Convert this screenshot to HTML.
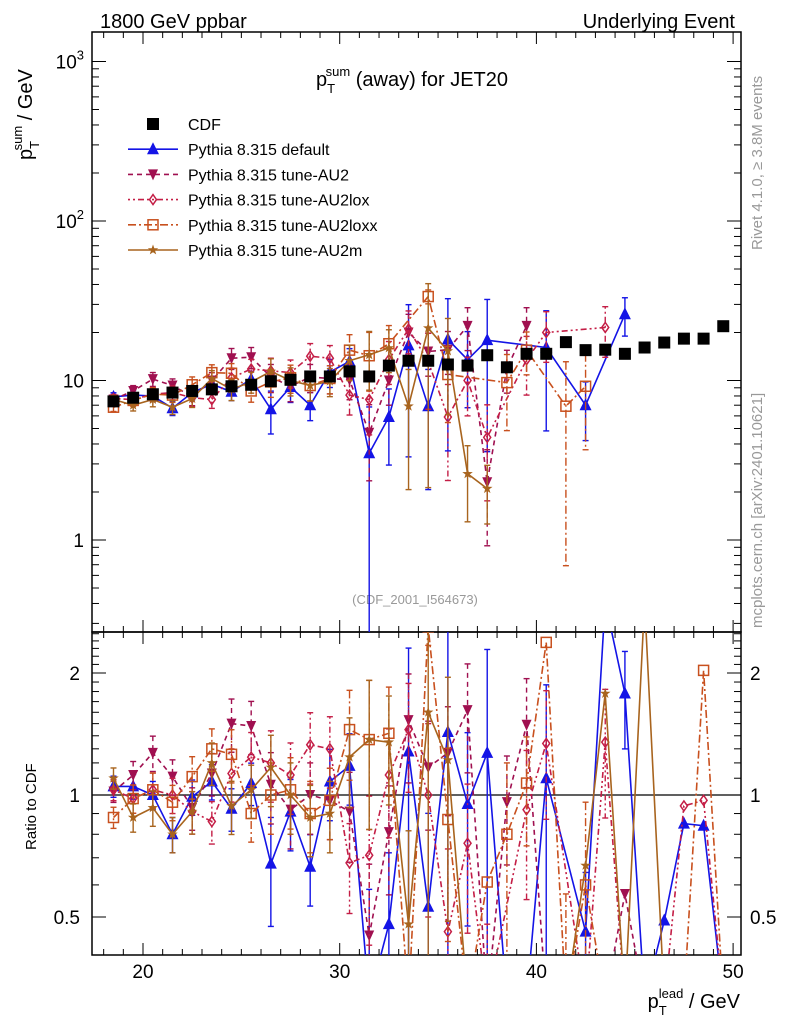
<!DOCTYPE html>
<html><head><meta charset="utf-8"><style>
html,body{margin:0;padding:0;background:#fff;overflow:hidden;width:786px;height:1024px}
svg{display:block;font-family:"Liberation Sans",sans-serif;overflow:hidden}
</style></head><body>
<svg id="c" width="786" height="1024" viewBox="0 0 786 1024" xmlns="http://www.w3.org/2000/svg">
<defs>
<clipPath id="cm"><rect x="92" y="32" width="649" height="600"/></clipPath>
<clipPath id="cr"><rect x="92" y="632" width="649" height="323"/></clipPath>
</defs>
<text x="100" y="28" font-size="20">1800 GeV ppbar</text>
<text x="735" y="28" font-size="20" text-anchor="end">Underlying Event</text>
<text x="412" y="86" font-size="20" text-anchor="middle">p<tspan font-size="13" dy="7">T</tspan><tspan font-size="13" dx="-8" dy="-17">sum</tspan><tspan dy="10"> (away) for JET20</tspan></text>
<text transform="translate(762,250) rotate(-90)" font-size="15" fill="#999">Rivet 4.1.0, ≥ 3.8M events</text>
<text transform="translate(762,628) rotate(-90)" font-size="15" fill="#999">mcplots.cern.ch [arXiv:2401.10621]</text>
<text x="415" y="604" font-size="13" fill="#999" text-anchor="middle">(CDF_2001_I564673)</text>
<text transform="translate(32,160) rotate(-90)" font-size="20">p<tspan font-size="13" dy="7">T</tspan><tspan font-size="13" dx="-8" dy="-17">sum</tspan><tspan dy="10"> / GeV</tspan></text>
<text transform="translate(36,850) rotate(-90)" font-size="15">Ratio to CDF</text>
<text x="740" y="1008" font-size="20" text-anchor="end">p<tspan font-size="13" dy="7">T</tspan><tspan font-size="13" dx="-8" dy="-17">lead</tspan><tspan dy="10"> / GeV</tspan></text>
<g id="axes"></g>
<g id="main" clip-path="url(#cm)"></g>
<g id="ratio" clip-path="url(#cr)"></g>
<g id="legend"></g>
</svg>
<script>
const xsVals=[18.5,19.5,20.5,21.5,22.5,23.5,24.5,25.5,26.5,27.5,28.5,29.5,30.5,31.5,32.5,33.5,34.5,35.5,36.5,37.5,38.5,39.5,40.5,41.5,42.5,43.5,44.5,45.5,46.5,47.5,48.5,49.5];
const cdfVals=[7.4,7.8,8.2,8.4,8.6,8.8,9.2,9.4,9.9,10.1,10.6,10.6,11.4,10.6,12.4,13.3,13.3,12.6,12.4,14.4,12.1,14.7,14.7,17.4,15.5,15.6,14.7,16.1,17.3,18.3,18.3,21.9];
const defMain=[7.9,8.1,8.0,6.7,8.4,9.5,8.5,10.2,6.6,9.1,7.0,11.3,13.2,3.5,5.9,16.6,6.9,18.1,13.5,17.9,null,null,16.1,null,7.0,null,26,null,null,null,null,null];
const defErr=[.06,.07,.08,.1,.1,.1,.12,.12,.3,.2,.2,.2,.2,.95,.5,.8,.7,.8,.5,.8,0,0,.7,0,.4,0,.27,0,0,0,0,0];
const defRatio=[1.05,1.05,1.0,0.80,0.99,1.08,0.925,1.07,0.677,0.91,0.665,1.08,1.18,0.3,0.48,1.28,0.53,1.43,0.95,1.27,0.3,0.3,1.1,null,0.46,3.0,1.78,0.3,0.49,0.85,0.84,0.3];
const au2Main=[7.6,8.6,10.2,9.3,7.9,10,13.8,14,10.5,9.2,10.5,10.3,10.1,4.7,10,20,15.2,15.6,22,2.3,11.9,22,null,null,null,null,null,null,null,null,null,null];
const au2Err=[.06,.08,.1,.1,.12,.12,.15,.15,.2,.2,.2,.2,.25,.5,.3,.3,.3,.3,.3,.6,.3,.3,0,0,0,0,0,0,0,0,0,0];
const au2Ratio=[1.02,1.12,1.27,1.11,0.93,1.13,1.5,1.48,1.06,0.92,1.0,0.97,0.91,0.45,0.81,1.53,1.17,1.27,1.62,0.2,0.96,1.49,0.3,null,null,0.3,0.57,0.3,null,null,null,null];
const loxMain=[7.7,7.6,8.2,8.4,7.8,7.6,10.4,11.8,11.5,11.2,14.2,13.8,8.1,7.6,13.5,21,13.2,5.9,10,4.4,null,13.5,20,null,null,21.5,null,null,null,null,null,null];
const loxErr=[.06,.08,.1,.1,.12,.12,.15,.15,.2,.2,.2,.2,.25,.4,.3,.3,.5,.6,.4,.6,0,.4,.35,0,0,.35,0,0,0,0,0,0];
const loxRatio=[1.03,0.98,1.03,1.0,0.91,0.86,1.13,1.24,1.2,1.12,1.33,1.3,0.68,0.71,1.12,1.45,1.0,0.46,0.76,0.3,null,0.92,1.34,null,0.3,1.35,0.3,null,0.3,0.94,0.97,0.3];
const loxxMain=[6.8,7.5,8.2,8.1,9.4,11.2,11.1,8.6,9.8,10.4,9.3,10.3,15.5,14.3,17,null,33.6,10.9,null,null,9.7,15.5,null,6.9,9.2,null,null,null,null,null,null,null];
const loxxErr=[.06,.08,.1,.1,.12,.12,.15,.15,.2,.2,.2,.2,.25,.4,.3,0,.1,.5,0,0,.5,.3,0,.9,.6,0,0,0,0,0,0,0];
const loxxRatio=[0.88,0.98,1.03,0.96,1.11,1.3,1.26,0.9,1.0,1.03,0.9,0.97,1.45,1.37,1.42,0.3,2.6,0.87,0.3,0.61,0.8,1.07,2.38,0.3,0.6,0.3,null,null,null,0.3,2.03,0.3];
const au2mMain=[7.6,7.0,7.6,6.8,7.7,10.3,8.8,9.8,11.4,10,9.3,9.9,13.3,14.5,16,6.9,21.3,15.3,2.6,2.1,null,null,null,null,null,null,null,null,null,null,null,null];
const au2mErr=[.06,.08,.1,.1,.12,.12,.15,.15,.2,.2,.2,.2,.25,.4,.3,.7,.9,.6,.5,.4,0,0,0,0,0,0,0,0,0,0,0,0];
const au2mRatio=[1.1,0.88,0.93,0.8,0.91,1.2,0.94,1.03,1.17,1.0,0.88,0.9,1.24,1.37,1.35,0.48,1.6,1.22,0.2,null,null,null,null,0.2,0.67,1.78,0.2,3.0,0.2,null,null,null];
const xTicks=[20,30,40,50];
const yTicks=[1,10,100,1000];
const rTicks=[0.5,1,2];

const NS="http://www.w3.org/2000/svg";
const L=92,R=741,T=32,M=632,B=955;
const X=v=>143+(v-20)*19.67;
const Y=v=>Math.min(Math.max(540-Math.log10(v)*159.5,10),1000);
const YR=v=>Math.min(Math.max(795-Math.log2(v)*122,600),1000);
function el(tag,attrs,parent){const e=document.createElementNS(NS,tag);for(const k in attrs)e.setAttribute(k,attrs[k]);parent.appendChild(e);return e;}
const axes=document.getElementById('axes'),gm=document.getElementById('main'),gr=document.getElementById('ratio'),gl=document.getElementById('legend');

let f1=el('rect',{x:L,y:T,width:R-L,height:M-T,fill:'none',stroke:'#000','stroke-width':1.5},axes);


let f2=el('rect',{x:L,y:M,width:R-L,height:B-M,fill:'none',stroke:'#000','stroke-width':1.5},axes);


let one=el('line',{x1:L,x2:R,y1:YR(1),y2:YR(1),stroke:'#000','stroke-width':1.2},axes);



for(let v=18;v<=50;v++){const x=X(v);const len=(v%10===0)?12:6;
 [[T,1],[M,-1],[M,1],[B,-1]].forEach(([y,d])=>{let t=el('line',{x1:x,x2:x,y1:y,y2:y+d*len,stroke:'#000'},axes);
 
 });}
xTicks.forEach(v=>{let t=el('text',{x:X(v),y:978,'font-size':19,'text-anchor':'middle'},axes);t.textContent=v;
 
 });
for(let d=-1;d<=3;d++)for(let k=1;k<10;k++){const v=k*Math.pow(10,d);const y=540-Math.log10(v)*159.5;if(y<T||y>M)continue;const len=k===1?14:7;
 [[L,1],[R,-1]].forEach(([x,s])=>{let t=el('line',{x1:x,x2:x+s*len,y1:y,y2:y,stroke:'#000'},axes);
 
 });}
yTicks.forEach(v=>{let t=el('text',{x:84,y:Y(v)+7,'font-size':19,'text-anchor':'end'},axes);
 if(v>=100){t.innerHTML='10<tspan font-size="13" dy="-9">'+Math.log10(v)+'</tspan>';}
 else{t.textContent=v;}
 
 });
for(let i=4;i<=25;i++){const v=i/10;const y=795-Math.log2(v)*122;if(y<M||y>B)continue;const maj=(i===5||i===10||i===20);const len=maj?14:7;
 [[L,1],[R,-1]].forEach(([x,s])=>{let t=el('line',{x1:x,x2:x+s*len,y1:y,y2:y,stroke:'#000'},axes);
 
 });}
rTicks.forEach(v=>{[[80,'end'],[750,'start']].forEach(([x,a])=>{let t=el('text',{x:x,y:YR(v)+7,'font-size':19,'text-anchor':a},axes);t.textContent=v;
 
 });});

function marker(g,type,x,y,color){
 let e;
 if(type==='fsquare')e=el('rect',{x:x-6,y:y-6,width:12,height:12,fill:'#000'},g);
 else if(type==='square')e=el('rect',{x:x-5,y:y-5,width:10,height:10,fill:'none',stroke:color,'stroke-width':1.5},g);
 else if(type==='tri')e=el('path',{d:`M${x} ${y-7}L${x+6} ${y+5}L${x-6} ${y+5}Z`,fill:color},g);
 else if(type==='tridown')e=el('path',{d:`M${x} ${y+6}L${x+5} ${y-5}L${x-5} ${y-5}Z`,fill:color},g);
 else if(type==='diamond')e=el('path',{d:`M${x} ${y-5}L${x+3.5} ${y}L${x} ${y+5}L${x-3.5} ${y}Z`,fill:'none',stroke:color,'stroke-width':1.5},g);
 else if(type==='star'){let p='';for(let i=0;i<10;i++){const r=i%2?2.2:5.5,a=-Math.PI/2+i*Math.PI/5;p+=(i?'L':'M')+(x+r*Math.cos(a)).toFixed(1)+' '+(y+r*Math.sin(a)).toFixed(1);}e=el('path',{d:p+'Z',fill:color},g);}
 return e;
}
const series=[
 {name:'default',main:defMain,err:defErr,ratio:defRatio,color:'#1414e6',dash:'',m:'tri',label:'Pythia 8.315 default'},
 {name:'au2',main:au2Main,err:au2Err,ratio:au2Ratio,color:'#a01050',dash:'5,4',m:'tridown',label:'Pythia 8.315 tune-AU2'},
 {name:'au2lox',main:loxMain,err:loxErr,ratio:loxRatio,color:'#c41e46',dash:'2,3,2,3,6,3',m:'diamond',label:'Pythia 8.315 tune-AU2lox'},
 {name:'au2loxx',main:loxxMain,err:loxxErr,ratio:loxxRatio,color:'#c8501e',dash:'8,3,2,3',m:'square',label:'Pythia 8.315 tune-AU2loxx'},
 {name:'au2m',main:au2mMain,err:au2mErr,ratio:au2mRatio,color:'#a8641e',dash:'',m:'star',label:'Pythia 8.315 tune-AU2m'}
];
function drawSeries(g,s,vals,Yf,errs,suffix){
 const grp=el('g',{},g);
 
 
 let pts=[];
 vals.forEach((v,i)=>{if(v==null)return;pts.push([X(xsVals[i]),Yf(v),v,i]);});
 const pl=el('polyline',{points:pts.map(p=>p[0].toFixed(1)+','+p[1].toFixed(1)).join(' '),fill:'none',stroke:s.color,'stroke-width':1.6,'stroke-dasharray':s.dash},grp);
 
 
 pts.forEach(([x,y,v,i])=>{const e=errs[i]||0;if(e>0){const lo=Math.max(v*(1-e),1e-3),hi=v*(1+e);
  const y1=Yf(hi),y2=Yf(lo);
  el('line',{x1:x,x2:x,y1:y1,y2:y2,stroke:s.color,'stroke-width':1.4,'stroke-dasharray':s.dash},grp);
  el('line',{x1:x-3,x2:x+3,y1:y1,y2:y1,stroke:s.color,'stroke-width':1.4},grp);
  el('line',{x1:x-3,x2:x+3,y1:y2,y2:y2,stroke:s.color,'stroke-width':1.4},grp);}
  if(y<990&&y>20){const mk=marker(grp,s.m,x,y,s.color);
  
  }});
}
series.forEach(s=>drawSeries(gm,s,s.main,Y,s.err,'main'));
series.forEach(s=>drawSeries(gr,s,s.ratio,YR,s.err,'ratio'));
cdfVals.forEach((v,i)=>{const m=marker(gm,'fsquare',X(xsVals[i]),Y(v),'#000');
 
 });

const lg=[{label:'CDF',m:'fsquare',color:'#000',dash:'',line:false}].concat(series.map(s=>({label:s.label,m:s.m,color:s.color,dash:s.dash,line:true})));
lg.forEach((it,i)=>{const y=124+i*25.2;const g=el('g',{},gl);
 
 
 if(it.line)el('line',{x1:128,x2:178,y1:y,y2:y,stroke:it.color,'stroke-width':1.6,'stroke-dasharray':it.dash},g);
 marker(g,it.m,153,y,it.color);
 const t=el('text',{x:188,y:y+6,'font-size':16},g);t.textContent=it.label;});
</script>
</body></html>
